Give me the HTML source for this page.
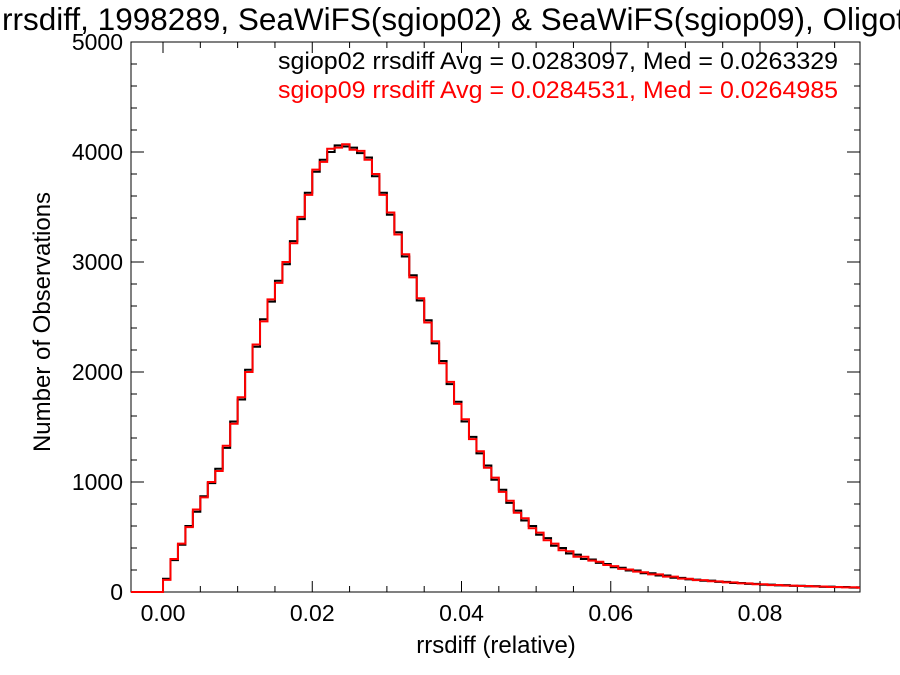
<!DOCTYPE html>
<html><head><meta charset="utf-8"><style>
html,body{margin:0;padding:0;background:#fff;overflow:hidden;}
svg{display:block;font-family:"Liberation Sans",sans-serif;}
</style></head><body>
<svg id="chart" width="900" height="675" viewBox="0 0 900 675" xmlns="http://www.w3.org/2000/svg">
<text x="2" y="30" font-size="31.5" fill="#000">rrsdiff, 1998289, SeaWiFS(sgiop02) &amp; SeaWiFS(sgiop09), Oligotrophic</text>
<g id="axes"></g>
<g id="series"></g>
<text x="838" y="69" font-size="24" text-anchor="end" textLength="560" lengthAdjust="spacingAndGlyphs" fill="#000">sgiop02 rrsdiff Avg = 0.0283097, Med = 0.0263329</text>
<text x="838" y="98" font-size="24" text-anchor="end" textLength="560" lengthAdjust="spacingAndGlyphs" fill="#ff0000">sgiop09 rrsdiff Avg = 0.0284531, Med = 0.0264985</text>
<text x="496" y="653" font-size="24" text-anchor="middle">rrsdiff (relative)</text>
<text transform="translate(50,322) rotate(-90)" font-size="24" text-anchor="middle">Number of Observations</text>
</svg>
<script>
const binWidth = 0.001;
const binStart = 0.0;
const seriesA = [120,290,430,600,730,870,990,1120,1310,1550,1750,2020,2230,2480,2640,2830,2980,3190,3390,3630,3820,3930,4000,4060,4050,4040,3990,3950,3780,3630,3430,3270,3050,2880,2650,2470,2260,2100,1890,1730,1550,1410,1260,1150,1020,930,810,740,650,600,520,490,420,400,350,340,300,295,265,255,225,220,195,195,170,170,150,150,130,128,115,112,102,103,92,92,82,82,74,74,66,67,60,62,56,57,51,53,47,49,44,45,40,42];
const seriesB = [110,300,440,590,750,860,1000,1100,1330,1530,1770,2000,2250,2460,2660,2810,3000,3170,3410,3610,3840,3910,4030,4040,4070,4020,4010,3930,3800,3610,3450,3250,3070,2860,2670,2450,2280,2080,1910,1710,1570,1390,1280,1130,1040,910,830,720,670,580,540,470,440,380,370,320,320,285,275,245,235,210,205,185,180,160,160,140,140,122,120,108,108,98,97,88,88,78,78,70,70,63,64,58,58,54,55,50,50,46,46,42,43,39];
const xTicks = [0.00,0.02,0.04,0.06,0.08];
const xTickLabels = ["0.00","0.02","0.04","0.06","0.08"];
const yTicks = [0,1000,2000,3000,4000,5000];
const yTickLabels = ["0","1000","2000","3000","4000","5000"];

const L=131,R=860,T=42,B=592;
const xMin=-0.00429,xMax=0.0934,yMin=0,yMax=5000;
const sx=v=>L+(v-xMin)/(xMax-xMin)*(R-L);
const sy=v=>B-(v-yMin)/(yMax-yMin)*(B-T);
const NS="http://www.w3.org/2000/svg";
const axes=document.getElementById('axes'), ser=document.getElementById('series');
function mk(tag,attrs,parent){const e=document.createElementNS(NS,tag);for(const k in attrs)e.setAttribute(k,attrs[k]);parent.appendChild(e);return e;}

const frame=mk('rect',{x:L,y:T,width:R-L,height:B-T,fill:'none',stroke:'#000','stroke-width':1},axes);



for(let v=0;v<=xMax+1e-9;v+=0.005){
  const major=Math.abs(v/0.02-Math.round(v/0.02))<1e-6;
  const len=major?11:6, x=sx(v);
  const t1=mk('line',{x1:x,x2:x,y1:B,y2:B-len,stroke:'#000'},axes);
  
  
  const t2=mk('line',{x1:x,x2:x,y1:T,y2:T+len,stroke:'#000'},axes);
  
  
}
xTicks.forEach((v,i)=>{
  const t=mk('text',{x:sx(v),y:621,'font-size':23,'text-anchor':'middle'},axes);
  t.textContent=xTickLabels[i];
  
  
});
for(let v=0;v<=yMax;v+=200){
  const major=v%1000===0, len=major?13:6, y=sy(v);
  const t1=mk('line',{x1:L,x2:L+len,y1:y,y2:y,stroke:'#000'},axes);
  
  
  const t2=mk('line',{x1:R,x2:R-len,y1:y,y2:y,stroke:'#000'},axes);
  
  
}
yTicks.forEach((v,i)=>{
  const t=mk('text',{x:123,y:sy(v)+8,'font-size':23,'text-anchor':'end'},axes);
  t.textContent=yTickLabels[i];
  
  
});

function stepPath(vals){
  let d='M'+L+','+sy(0)+' L'+sx(binStart)+','+sy(0);
  vals.forEach((v,i)=>{
    const x0=sx(binStart+i*binWidth), x1=Math.min(R,sx(binStart+(i+1)*binWidth));
    d+=' L'+x0+','+sy(v)+' L'+x1+','+sy(v);
  });
  return d;
}
const pa=mk('path',{d:stepPath(seriesA),fill:'none',stroke:'#000','stroke-width':2},ser);


const pb=mk('path',{d:stepPath(seriesB),fill:'none',stroke:'#ff0000','stroke-width':2},ser);


</script>
</body></html>
